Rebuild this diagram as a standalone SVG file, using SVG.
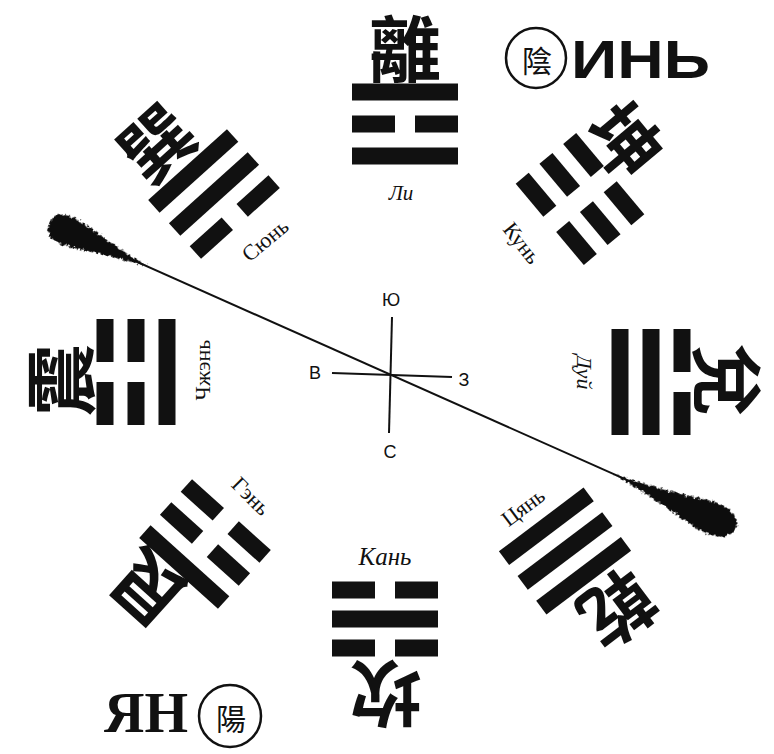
<svg xmlns="http://www.w3.org/2000/svg" width="774" height="754" viewBox="0 0 774 754">
<style>
.bar{fill:#111}
.cjk{font-family:"Noto Sans CJK TC","Noto Sans CJK SC",sans-serif;font-weight:700;font-size:72px;fill:#111;text-anchor:middle;dominant-baseline:central}
.sm{font-size:30px;font-weight:400}
.lbl{font-family:"Liberation Serif",serif;font-size:22px;fill:#111;text-anchor:middle;dominant-baseline:central}
.it{font-style:italic}
.dir{font-family:"Liberation Sans",sans-serif;font-size:18px;fill:#111;text-anchor:middle;dominant-baseline:central}
.ax{stroke:#111;stroke-width:2;fill:none}
.ring{stroke:#111;stroke-width:2.5;fill:#fff}
</style>
<defs>
<g id="yang"><rect class="bar" x="-53" y="-8.5" width="106" height="17"/></g>
<g id="yin"><rect class="bar" x="-53" y="-8.5" width="43" height="17"/><rect class="bar" x="10" y="-8.5" width="43" height="17"/></g>
<filter id="fuzz" x="-20%" y="-60%" width="140%" height="220%">
<feTurbulence type="fractalNoise" baseFrequency="0.35" numOctaves="2" seed="3"/>
<feDisplacementMap in="SourceGraphic" scale="6" xChannelSelector="R" yChannelSelector="G"/>
</filter>
</defs>
<rect width="774" height="754" fill="#fff"/>

<g id="connectors">
<g transform="translate(52,224) rotate(24)">
<line class="ax" x1="20" y1="0" x2="725" y2="0" stroke-width="2.2"/>
<g filter="url(#fuzz)">
<path fill="#111" d="M-3,0 C-3,-13 8,-16 24,-14 C46,-10 72,-4 105,0 C72,4 46,10 24,14 C8,16 -3,13 -3,0 Z"/>
<path fill="#111" d="M615,0 C655,-3 690,-10 715,-15 C737,-19 748,-9 748,0 C748,11 737,18 715,16 C690,12 655,4 615,0 Z"/>
</g>
</g>
<line class="ax" x1="392" y1="317" x2="389" y2="433"/>
<line class="ax" x1="332" y1="373" x2="452" y2="377"/>
</g>

<g id="compass">
<text class="dir" x="391" y="300">Ю</text>
<text class="dir" x="315" y="373">В</text>
<text class="dir" x="464" y="380">З</text>
<text class="dir" x="390" y="452">С</text>
</g>

<g id="li" transform="translate(405,124)">
<use href="#yang" y="-32"/><use href="#yin" y="0"/><use href="#yang" y="32"/>
<text class="cjk" x="0" y="-80">離</text>
<text class="lbl it" x="-4" y="69" style="font-size:21px">Ли</text>
</g>

<g id="kan">
<g transform="translate(385,619) rotate(180)">
<use href="#yin" y="-29"/><use href="#yang" y="0"/><use href="#yin" y="29"/>
</g>
<text class="cjk" transform="translate(386,698) rotate(180)">坎</text>
<text class="lbl it" x="385" y="556" style="font-size:25px">Кань</text>
</g>

<g id="zhen">
<g transform="translate(136,372) rotate(-90)">
<use href="#yin" y="-31"/><use href="#yin" y="0"/><use href="#yang" y="31"/>
</g>
<text class="cjk" transform="translate(56,380) rotate(-90)">震</text>
<text class="lbl" transform="translate(202,370) rotate(-90)">Чжэнь</text>
</g>

<g id="dui">
<g transform="translate(651,382) rotate(90)">
<use href="#yin" y="-31"/><use href="#yang" y="0"/><use href="#yang" y="31"/>
</g>
<text class="cjk" transform="translate(731,380) rotate(90)">兌</text>
<text class="lbl it" transform="translate(584,372) rotate(90)">Дуй</text>
</g>

<g id="xun">
<g transform="translate(214,194) rotate(-42)">
<use href="#yang" y="-31"/><use href="#yang" y="0"/><use href="#yin" y="31"/>
</g>
<text class="cjk" transform="translate(154,140) rotate(-42)">巽</text>
<text class="lbl" transform="translate(265,240) rotate(-40)">Сюнь</text>
</g>

<g id="kun">
<g transform="translate(580,199) rotate(50)">
<use href="#yin" y="-31"/><use href="#yin" y="0"/><use href="#yin" y="31"/>
</g>
<text class="cjk" transform="translate(628,138) rotate(50)">坤</text>
<text class="lbl" transform="translate(522,243) rotate(52)">Кунь</text>
</g>

<g id="gen">
<g transform="translate(205,544) rotate(-138)">
<use href="#yang" y="-31"/><use href="#yin" y="0"/><use href="#yin" y="31"/>
</g>
<text class="cjk" transform="translate(145,592) rotate(-138)">艮</text>
<text class="lbl" transform="translate(251,496) rotate(45)">Гэнь</text>
</g>

<g id="qian">
<g transform="translate(565,551) rotate(143)">
<use href="#yang" y="-31"/><use href="#yang" y="0"/><use href="#yang" y="31"/>
</g>
<text class="cjk" transform="translate(620,612) rotate(143)">乾</text>
<text class="lbl" transform="translate(523,507) rotate(-37)">Цянь</text>
</g>

<g id="yin-label">
<circle class="ring" cx="536" cy="58" r="30"/>
<text class="cjk sm" x="537" y="59">陰</text>
<text x="571" y="78" font-family="Liberation Sans, sans-serif" font-weight="700" font-size="54" fill="#111" textLength="139" lengthAdjust="spacingAndGlyphs">ИНЬ</text>
</g>

<g id="yang-label">
<text x="104" y="732" font-family="Liberation Serif, serif" font-weight="700" font-size="58" fill="#111" textLength="84" lengthAdjust="spacingAndGlyphs">ЯН</text>
<circle class="ring" cx="230" cy="716" r="31"/>
<text class="cjk sm" x="231" y="717">陽</text>
</g>
</svg>
